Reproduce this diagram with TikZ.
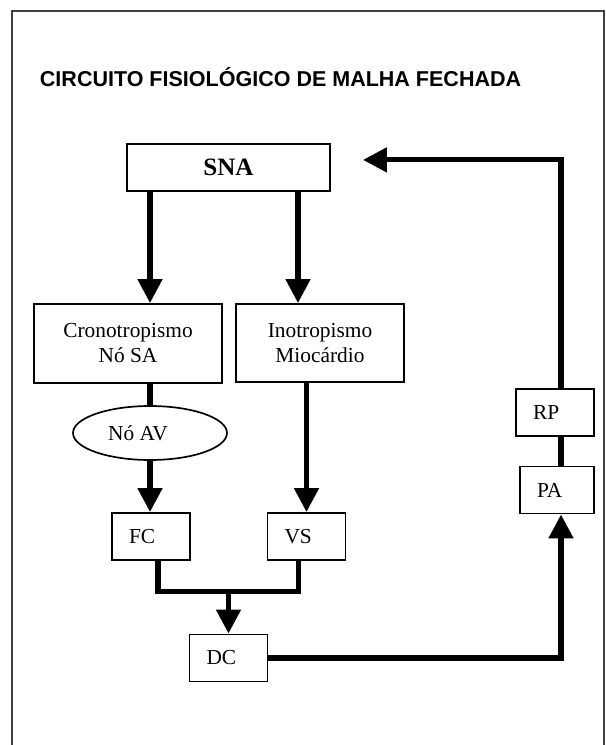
\documentclass[tikz,border=0pt]{standalone}
\usepackage{fontspec}
\setmainfont{Liberation Serif}
\newfontfamily\titlefont{Liberation Sans}
\usetikzlibrary{arrows.meta,shapes.geometric,calc}

\begin{document}
\begin{tikzpicture}
    [>={Triangle[length=0.6cm,width=0.6cm]},
     box/.style={draw,line width=1.4pt,inner sep=0pt,align=center,font=\fontsize{15.2}{17.8}\selectfont},
     smallbox/.style={box,text width=1.1cm,align=left,inner xsep=0.425cm,minimum height=1.175cm},
     link/.style={line width=3.6pt},
     arr/.style={link,->}]

    \useasboundingbox (0,0) rectangle (15.125,-18.625);
    \draw[line width=0.8pt,black!75] (0.3,-18.8) -- (0.3,-0.275) -- (15.1,-0.275) -- (15.1,-18.8);

    \node[anchor=base west,font=\titlefont\fontsize{15.3}{18}\selectfont\bfseries] (title) at (0.875,-2.175) {CIRCUITO FISIOLÓGICO DE MALHA FECHADA};

    \node[box,minimum width=5.075cm,minimum height=1.175cm,font=\fontsize{17.8}{20}\selectfont\bfseries] (SNA) at (5.7125,-4.1875) {SNA};
    \node[box,minimum width=4.7cm,minimum height=1.975cm] (Crono) at (3.2,-8.5875) {Cronotropismo\\Nó SA};
    \node[box,minimum width=4.2cm,minimum height=1.95cm] (Ino) at (8.0,-8.575) {Inotropismo\\Miocárdio};
    \node[box,ellipse,line width=1.2pt,minimum width=3.85cm,minimum height=1.35cm] (AV) at (3.75,-10.825) {Nó AV\hspace{0.6cm}};

    \node[smallbox] (FC) at (3.775,-13.4125) {FC};
    \node[smallbox] (VS) at (7.6625,-13.4125) {VS};
    \node[smallbox] (DC) at (5.7125,-16.45) {DC};
    \node[smallbox] (RP) at (13.875,-10.3125) {RP};
    \node[smallbox,text width=1.0cm] (PA) at (13.925,-12.25) {PA};

    \coordinate (col2) at (7.45,0);
    \coordinate (join) at ($(DC.north)+(0,1.05)$);
    \coordinate (fb) at (14.025,0);
    \coordinate (back) at ($(SNA.east)+(0.8,0.19)$);

    \draw[arr] (SNA.south -| AV) -- (Crono.north -| AV);
    \draw[arr] (SNA.south -| col2) -- (Ino.north -| col2);
    \draw[link] (Crono.south -| AV) -- (AV.north);
    \draw[arr] (AV.south) -- (AV.south |- FC.north);
    \draw[arr] (Ino.south -| VS) -- (VS.north);
    \draw[link] ($(FC.south)+(0.175,0)$) |- (join) -| ($(VS.south)+(-0.19,0)$);
    \draw[arr] (join) -- (DC.north);
    \draw[arr] (DC.east) -| (PA.south -| fb);
    \draw[link] (PA.north -| fb) -- (RP.south -| fb);
    \draw[arr] (RP.north -| fb) |- (back);

\end{tikzpicture}
\end{document}
